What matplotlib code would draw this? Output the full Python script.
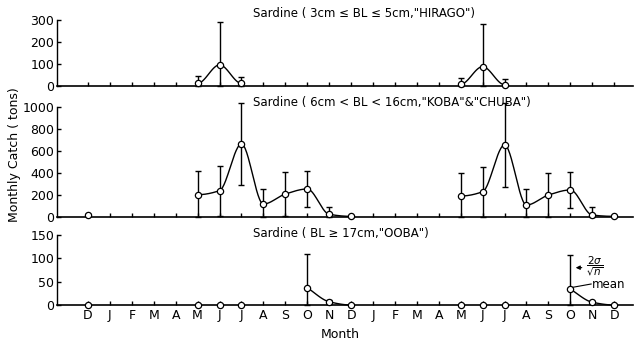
import numpy as np
import matplotlib
matplotlib.use('Agg')
import matplotlib.pyplot as plt

months = ['D', 'J', 'F', 'M', 'A', 'M', 'J', 'J', 'A', 'S', 'O', 'N', 'D',
          'J', 'F', 'M', 'A', 'M', 'J', 'J', 'A', 'S', 'O', 'N', 'D']

# Sardine 3cm<=BL<=5cm "HIRAGO"
hir_idx = [[5, 6, 7], [17, 18, 19]]
hir_mean = [[12, 96, 12], [8, 88, 6]]
hir_err = [[33, 197, 30], [30, 196, 27]]

# Sardine 6cm<BL<16cm "KOBA" & "CHUBA"
kc_single_idx = [0]
kc_single_mean = [20]
kc_single_err = [8]
kc_idx = [[5, 6, 7, 8, 9, 10, 11, 12], [17, 18, 19, 20, 21, 22, 23, 24]]
kc_mean = [[200, 237, 661, 115, 206, 252, 22, 3], [188, 227, 652, 106, 197, 243, 15, 3]]
kc_err = [[215, 227, 375, 140, 204, 163, 69, 6], [206, 228, 378, 144, 203, 167, 70, 6]]

# Sardine BL>=17cm "OOBA"
ooba_zero_idx = [0, 5, 6, 7, 17, 18, 19]
ooba_zero_mean = [0, 0, 0, 0, 0, 0, 0]
ooba_idx = [[10, 11, 12], [22, 23, 24]]
ooba_mean = [[37, 7, 0], [34, 6, 0]]
ooba_err = [[72, 4, 0], [73, 3, 0]]

titles = ['Sardine ( 3cm \u2264 BL \u2264 5cm,"HIRAGO")',
          'Sardine ( 6cm < BL < 16cm,"KOBA"&"CHUBA")',
          'Sardine ( BL \u2265 17cm,"OOBA")']


def pchip(x, y, flat_ends=True, n=30):
    x = np.asarray(x, float)
    y = np.asarray(y, float)
    h = np.diff(x)
    d = np.diff(y) / h
    m = np.zeros_like(y)
    for k in range(1, len(x) - 1):
        if d[k - 1] * d[k] > 0:
            w1 = 2 * h[k] + h[k - 1]
            w2 = h[k] + 2 * h[k - 1]
            m[k] = (w1 + w2) / (w1 / d[k - 1] + w2 / d[k])
    if not flat_ends:
        m[0] = d[0]
        m[-1] = 0.0
    xs, ys = [], []
    for k in range(len(x) - 1):
        t = np.linspace(0, 1, n)
        h00 = 2 * t**3 - 3 * t**2 + 1
        h10 = t**3 - 2 * t**2 + t
        h01 = -2 * t**3 + 3 * t**2
        h11 = t**3 - t**2
        xs.append(x[k] + t * h[k])
        ys.append(h00 * y[k] + h10 * h[k] * m[k] + h01 * y[k + 1] + h11 * h[k] * m[k + 1])
    return np.concatenate(xs), np.concatenate(ys)


fig = plt.figure(figsize=(6.34, 3.44), dpi=100)
W, H = 634.0, 344.0
x_left, x_right = 57, 633


def make_ax(y0px, ytoppx):
    return fig.add_axes([x_left / W, 1 - y0px / H, (x_right - x_left) / W, (y0px - ytoppx) / H])


ax1 = make_ax(86, 20)
ax2 = make_ax(216.7, 106.7)
ax3 = make_ax(305, 235)

specs = [(ax1, 300, [0, 100, 200, 300]),
         (ax2, 1000, [0, 200, 400, 600, 800, 1000]),
         (ax3, 150, [0, 50, 100, 150])]

for ax, ymax, ticks in specs:
    ax.set_xlim(-1.414, 24.86)
    ax.set_ylim(0, ymax)
    ax.spines['top'].set_visible(False)
    ax.spines['right'].set_visible(False)
    ax.spines['left'].set_bounds(0, ymax)
    ax.spines['left'].set_linewidth(1.0)
    ax.spines['bottom'].set_linewidth(1.2)
    ax.set_yticks(ticks)
    ax.set_xticks(range(len(months)))
    ax.tick_params(direction='in', length=3, width=1, labelsize=9, pad=2)
    ax.patch.set_alpha(0)

ax1.set_xticklabels([])
ax2.set_xticklabels([])
ax3.set_xticklabels(months)
ax3.tick_params(axis='x', pad=3)

mk = dict(marker='o', ms=4.5, mfc='white', mec='black', mew=0.9, ls='none', zorder=5, clip_on=False)
eb = dict(fmt='none', ecolor='black', elinewidth=1.0, capsize=2.2, capthick=1.0, clip_on=False, zorder=4)


def draw_series(ax, idx, mean, err, flat_ends=True):
    idx = np.asarray(idx)
    mean = np.asarray(mean, float)
    err = np.asarray(err, float)
    lower = np.minimum(err, mean)
    ax.errorbar(idx, mean, yerr=[lower, err], **eb)
    xs, ys = pchip(idx, mean, flat_ends)
    ax.plot(xs, np.clip(ys, 0, None), color='black', lw=1.0, clip_on=False, zorder=3)
    ax.plot(idx, mean, **mk)


for i in range(2):
    draw_series(ax1, hir_idx[i], hir_mean[i], hir_err[i], True)
    draw_series(ax2, kc_idx[i], kc_mean[i], kc_err[i], True)
    draw_series(ax3, ooba_idx[i], ooba_mean[i], ooba_err[i], False)

ax2.errorbar(kc_single_idx, kc_single_mean, yerr=kc_single_err, **eb)
ax2.plot(kc_single_idx, kc_single_mean, **mk)
ax3.plot(ooba_zero_idx, ooba_zero_mean, **mk)

# annotation in bottom panel
ax3.annotate('', xy=(22.12, 80), xytext=(22.65, 80),
             arrowprops=dict(arrowstyle='-|>', lw=0.8, color='black', mutation_scale=6),
             annotation_clip=False)
ax3.text(22.7, 84, r'$\dfrac{2\sigma}{\sqrt{n}}$', fontsize=7.5, va='center', ha='left')
ax3.plot([22.12, 22.95], [38, 45], color='black', lw=0.8, zorder=4)
ax3.text(22.97, 45, 'mean', fontsize=8.5, va='center', ha='left')

# titles
ty = [14, 102, 233]
for t, y in zip(titles, ty):
    fig.text(253 / W, 1 - y / H, t, fontsize=8.5, ha='left', va='center')

fig.text(15 / W, 1 - 155 / H, 'Monthly Catch ( tons)', rotation=90, fontsize=9, ha='center', va='center')
fig.text(340 / W, 1 - 335 / H, 'Month', fontsize=9, ha='center', va='center')

fig.savefig('out.png', dpi=100)
